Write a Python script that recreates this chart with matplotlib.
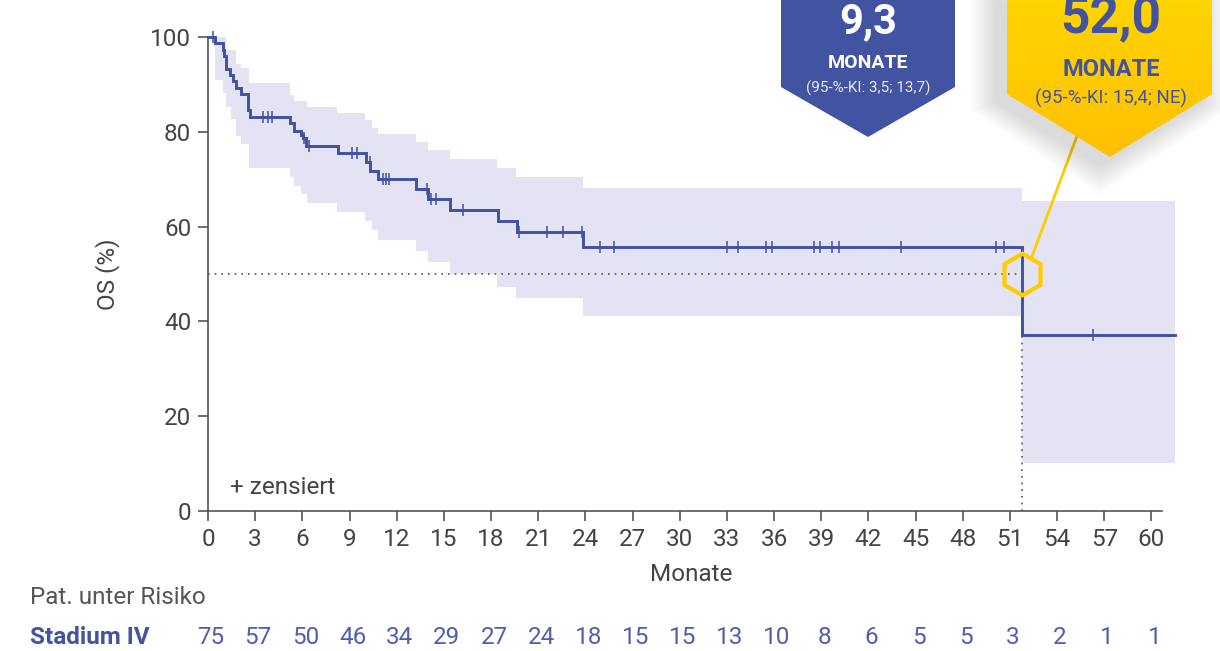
import numpy as np
import matplotlib
matplotlib.use("Agg")
import matplotlib.pyplot as plt
from matplotlib.patches import Polygon
from matplotlib.colors import LinearSegmentedColormap

plt.rcParams['font.family'] = ['Roboto', 'DejaVu Sans']

# ---------------- data ----------------
step_times = [0, 0.45, 0.93, 1.02, 1.14, 1.40, 1.61, 1.78, 2.08, 2.55, 2.65, 5.21, 5.47,
              5.89, 6.06, 6.23, 8.28, 10.04, 10.33, 10.83, 13.25, 14.0, 15.38, 18.45,
              19.66, 23.85, 51.8]
step_surv = [100, 98.67, 97.33, 96.0, 93.33, 92.0, 90.67, 89.33, 88.0, 84.6, 83.2, 81.8, 80.2,
             79.3, 78.6, 77.0, 75.5, 73.7, 71.8, 70.0, 67.9, 65.8, 63.5, 61.2,
             58.9, 55.8, 37.2]
follow_up_end = 61.5

ci_times = [0.45, 0.93, 1.14, 1.46, 1.8, 2.1, 2.62, 5.21, 5.5, 5.9, 6.3, 8.23, 10.0, 10.4,
            10.8, 13.2, 14.0, 15.4, 18.4, 19.6, 23.85, 51.8]
ci_upper = [100, 100, 97.3, 97.3, 94.4, 93.4, 90.2, 87.8, 86.6, 86.6, 85.2, 83.9, 82.5, 80.9,
            79.5, 77.9, 76.2, 74.3, 72.4, 70.4, 68.2, 65.4]
ci_lower = [90.9, 88.1, 85.3, 82.6, 79.1, 77.4, 72.3, 70.5, 68.6, 66.9, 65.0, 63.1, 61.2, 59.3,
            57.2, 54.8, 52.5, 50.0, 47.3, 44.9, 41.1, 10.1]

censor_times = [0.3, 3.52, 3.80, 4.09, 6.1, 6.45, 9.13, 9.45, 10.3, 11.15, 11.32, 11.53,
                13.95, 14.2, 14.5, 16.23, 19.77, 21.53, 22.55, 23.76, 24.9, 25.8, 33.0, 33.7,
                35.5, 35.85, 38.55, 38.95, 39.7, 40.1, 44.1, 50.1, 50.65, 56.3]

median_time = 51.8
median_level = 50

x_ticks = list(range(0, 61, 3))
y_ticks = [0, 20, 40, 60, 80, 100]
at_risk = [75, 57, 50, 46, 34, 29, 27, 24, 18, 15, 15, 13, 10, 8, 6, 5, 5, 3, 2, 1, 1]

group_label = "Stadium IV"
callout_blue = ["9,3", "MONATE", "(95-%-KI: 3,5; 13,7)"]
callout_yellow = ["52,0", "MONATE", "(95-%-KI: 15,4; NE)"]

# ---------------- style ----------------
BLUE = "#3f52a2"
BOX_BLUE = "#4253a1"
RIBBON = "#e3e3f3"
YELLOW = "#ffcc00"
GREY = "#444444"
FS = 17.5

W, H = 1220, 651
fig = plt.figure(figsize=(W / 100, H / 100), dpi=100)
ax = fig.add_axes([208 / W, (H - 511) / H, (1175 - 208) / W, (511 - 37) / H])

# ribbon
ct = list(ci_times) + [follow_up_end]
cu = list(ci_upper) + [ci_upper[-1]]
cl = list(ci_lower) + [ci_lower[-1]]
ax.fill_between(ct, cl, cu, step='post', color=RIBBON, lw=0, zorder=1)

# dotted median lines
ax.plot([0, median_time], [median_level, median_level], ls=(0, (1, 3)), color="#555555",
        lw=1.2, zorder=2)
ax.plot([median_time, median_time], [0, median_level], ls=(0, (1, 3)), color="#555555",
        lw=1.2, zorder=2, clip_on=False)

# KM curve
st = list(step_times) + [follow_up_end]
sv = list(step_surv) + [step_surv[-1]]
ax.step(st, sv, where='post', color=BLUE, lw=2.1, zorder=3, clip_on=False,
        solid_joinstyle='miter')

# censor marks
idx = np.searchsorted(np.array(step_times), np.array(censor_times), side='right') - 1
c_levels = np.array(step_surv)[idx]
ax.plot(censor_times, c_levels, ls='none', marker='|', ms=8, mew=1.1, color=BLUE,
        zorder=4, clip_on=False)

# hexagon marker
ax.plot([median_time], [median_level], marker='h', ms=30, mfc='none', mec=YELLOW, mew=3,
        zorder=6, clip_on=False)

ax.set_xlim(0, follow_up_end)
ax.set_ylim(0, 100)
ax.set_xticks(x_ticks)
ax.set_yticks(y_ticks)
ax.tick_params(axis='both', direction='out', length=7, width=1.2, colors="#555555",
               labelcolor=GREY, labelsize=FS)
ax.tick_params(axis='x', pad=5)
ax.tick_params(axis='y', pad=5)
for s in ['top', 'right']:
    ax.spines[s].set_visible(False)
for s in ['left', 'bottom']:
    ax.spines[s].set_color("#555555")
    ax.spines[s].set_linewidth(1.2)
ax.spines['bottom'].set_bounds(0, 60.7)
ax.patch.set_alpha(0)
ax.set_xlabel("Monate", fontsize=FS, color=GREY, labelpad=9)
ax.set_ylabel("OS (%)", fontsize=FS, color=GREY, labelpad=22)
ax.text(0.023, 0.05, "+ zensiert", transform=ax.transAxes, fontsize=FS, color=GREY,
        ha='left', va='center')

# ---------------- overlay in pixel coords ----------------
ov = fig.add_axes([0, 0, 1, 1], zorder=5)
ov.set_xlim(0, W)
ov.set_ylim(H, 0)
ov.axis('off')
ov.patch.set_alpha(0)

# at-risk table
ov.text(30, 598, "Pat. unter Risiko", fontsize=FS, color="#555555", ha='left', va='center')
ov.text(30, 637, group_label, fontsize=FS, color=BOX_BLUE, fontweight='bold',
        ha='left', va='center')
for xt, n in zip(x_ticks, at_risk):
    px = ax.transData.transform((xt, 0))[0]
    ov.text(px + 3, 637, str(n), fontsize=FS, color="#4f5fae", ha='center', va='center')

# connector line (drawn below boxes)
ov.plot([1031, 1080], [259, 128], color=YELLOW, lw=2.0, zorder=1, solid_capstyle='butt')

# shadow for yellow box
ybox = np.array([(1007, -5), (1212, -5), (1212, 94), (1110, 157), (1007, 94)])
for k in range(12):
    grow = 2.2 * (k + 1)
    cx, cy = ybox[:, 0].mean(), ybox[:, 1].mean()
    pts = ybox.copy().astype(float)
    pts[:, 0] = cx + (pts[:, 0] - cx) * (1 + grow / 110) - 10
    pts[:, 1] = cy + (pts[:, 1] - cy) * (1 + grow / 80) + 8
    ov.add_patch(Polygon(pts, closed=True, fc='#000000', ec='none', alpha=0.012, zorder=2))

# yellow box with gradient
ypoly = Polygon(ybox, closed=True, fc='none', ec='none', zorder=3)
ov.add_patch(ypoly)
grad = np.linspace(0, 1, 256).reshape(-1, 1)
ycmap = LinearSegmentedColormap.from_list("y", ["#ffd500", "#ffc000"])
im = ov.imshow(grad, extent=(1007, 1212, 157, -5), cmap=ycmap, aspect='auto', zorder=3)
im.set_clip_path(ypoly)
ov.set_xlim(0, W)
ov.set_ylim(H, 0)

# blue box
bbox_pts = [(781, -5), (955, -5), (955, 87), (868, 137), (781, 87)]
ov.add_patch(Polygon(bbox_pts, closed=True, fc=BOX_BLUE, ec='none', zorder=3))

ov.text(868, 22, callout_blue[0], fontsize=30, fontweight='bold', color='white',
        ha='center', va='center', zorder=4)
ov.text(868, 63, callout_blue[1], fontsize=14, fontweight='bold', color='white',
        ha='center', va='center', zorder=4)
ov.text(868, 88, callout_blue[2], fontsize=11, color='#e8eaf5',
        ha='center', va='center', zorder=4)

ov.text(1111, 19, callout_yellow[0], fontsize=37, fontweight='bold', color=BOX_BLUE,
        ha='center', va='center', zorder=4)
ov.text(1111, 69, callout_yellow[1], fontsize=17, fontweight='bold', color=BOX_BLUE,
        ha='center', va='center', zorder=4)
ov.text(1111, 98, callout_yellow[2], fontsize=13.5, color=BOX_BLUE,
        ha='center', va='center', zorder=4)

fig.savefig("out.png", dpi=100, facecolor='white')
